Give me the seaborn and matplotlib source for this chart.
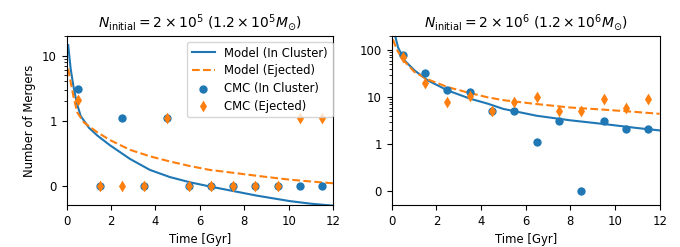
import numpy as np
import seaborn as sns
import matplotlib
matplotlib.use('Agg')
import matplotlib.pyplot as plt

# bin centres (Gyr) for the CMC counts
bin_centres = [0.5, 1.5, 2.5, 3.5, 4.5, 5.5, 6.5, 7.5, 8.5, 9.5, 10.5, 11.5]

# N = 2e5 cluster
small_in_cluster = [3.1, 0, 1.1, 0, 1.1, 0, 0, 0, 0, 0, 0, 0]
small_ejected = [2.1, 0, 0, 0, 1.1, 0, 0, 0, 0, 0, 1.1, 1.1]
small_model_in_t = [0.07, 0.18, 0.30, 0.45, 0.63, 1.0, 1.38, 1.95, 2.85, 3.75,
                    4.65, 5.55, 6.45, 7.35, 8.55, 10.05, 11.0, 12.0]
small_model_in = [14.5, 6.3, 3.46, 1.9, 1.18, 0.89, 0.77, 0.62, 0.41, 0.24,
                  0.13, 0.05, -0.015, -0.075, -0.155, -0.24, -0.28, -0.31]
small_model_ej_t = [0.07, 0.21, 0.33, 0.48, 0.78, 1.38, 1.95, 2.85, 3.75, 4.65,
                    5.55, 6.45, 7.05, 8.55, 10.05, 11.55, 12.0]
small_model_ej = [6.3, 3.46, 2.15, 1.33, 0.97, 0.82, 0.70, 0.55, 0.45, 0.37,
                  0.30, 0.24, 0.215, 0.15, 0.09, 0.046, 0.035]

# N = 2e6 cluster
big_in_cluster = [80, 33, 14, 13, 5.1, 5.1, 1.1, 3.1, 0, 3.1, 2.1, 2.1]
big_ejected = [70, 20, 8, 10.5, 5.1, 8, 10, 5.1, 5.1, 9, 6, 9]
big_model_in_t = [0.16, 0.28, 0.58, 1.03, 1.63, 2.52, 3.5, 4.32, 5.0, 6.5,
                  8.0, 9.5, 11.0, 12.0]
big_model_in = [200, 116, 60, 36.8, 22.5, 13.8, 9.3, 7.2, 5.6, 4.0,
                3.2, 2.67, 2.19, 1.95]
big_model_ej_t = [0.06, 0.21, 0.51, 1.03, 1.6, 2.52, 3.5, 4.3, 5.0, 6.5,
                  8.0, 9.5, 11.0, 12.0]
big_model_ej = [170, 107, 62, 34, 24, 16.3, 12.2, 9.9, 8.6, 7.1,
                6.0, 5.4, 4.8, 4.4]

panel_titles = [r'$N_{\rm initial} = 2\times10^5$ $(1.2\times10^5 M_{\odot})$',
                r'$N_{\rm initial} = 2\times10^6$ $(1.2\times10^6 M_{\odot})$']
ytick_vals = [[0, 1, 10], [0, 1, 10, 100]]
ytops = [20, 200]

plt.rcParams['font.size'] = 8.4


#Draw one panel of model curves and CMC points
def draw_panel(ax, model_in_t, model_in, model_ej_t, model_ej, in_cluster, ejected, title, yticks, ytop):
    sns.lineplot(x=model_in_t, y=model_in, ax=ax, color='#1f77b4', linewidth=1.5,
                 label='Model (In Cluster)', legend=False)
    sns.lineplot(x=model_ej_t, y=model_ej, ax=ax, color='#ff7f0e', linewidth=1.5,
                 linestyle='--', label='Model (Ejected)', legend=False)
    sns.scatterplot(x=bin_centres, y=in_cluster, ax=ax, color='#1f77b4', marker='o',
                    s=36, linewidth=0, label='CMC (In Cluster)', legend=False, zorder=3)
    sns.scatterplot(x=bin_centres, y=ejected, ax=ax, color='#ff7f0e', marker='d',
                    s=36, linewidth=0, label='CMC (Ejected)', legend=False, zorder=3)
    ax.set_yscale('symlog', linthresh=1, linscale=0.9, subs=list(range(2, 10)))
    ax.set_yticks(yticks, [str(v) for v in yticks])
    ax.set_ylim(-0.3, ytop)
    ax.set_xlim(0, 12)
    ax.set_xticks([0, 2, 4, 6, 8, 10, 12])
    ax.set_xlabel('Time [Gyr]')
    ax.set_title(title, fontsize=10)


fig = plt.figure(figsize=(6.8, 2.47), dpi=100)
ax1 = fig.add_axes([0.098, 0.170, 0.392, 0.684])
ax2 = fig.add_axes([0.576, 0.170, 0.394, 0.684])

draw_panel(ax1, small_model_in_t, small_model_in, small_model_ej_t, small_model_ej,
           small_in_cluster, small_ejected, panel_titles[0], ytick_vals[0], ytops[0])
draw_panel(ax2, big_model_in_t, big_model_in, big_model_ej_t, big_model_ej,
           big_in_cluster, big_ejected, panel_titles[1], ytick_vals[1], ytops[1])

ax1.set_ylabel('Number of Mergers')
ax1.legend(loc='upper right', bbox_to_anchor=(1.02, 1.0), labelspacing=0.4)

fig.savefig('out.png', dpi=100)
